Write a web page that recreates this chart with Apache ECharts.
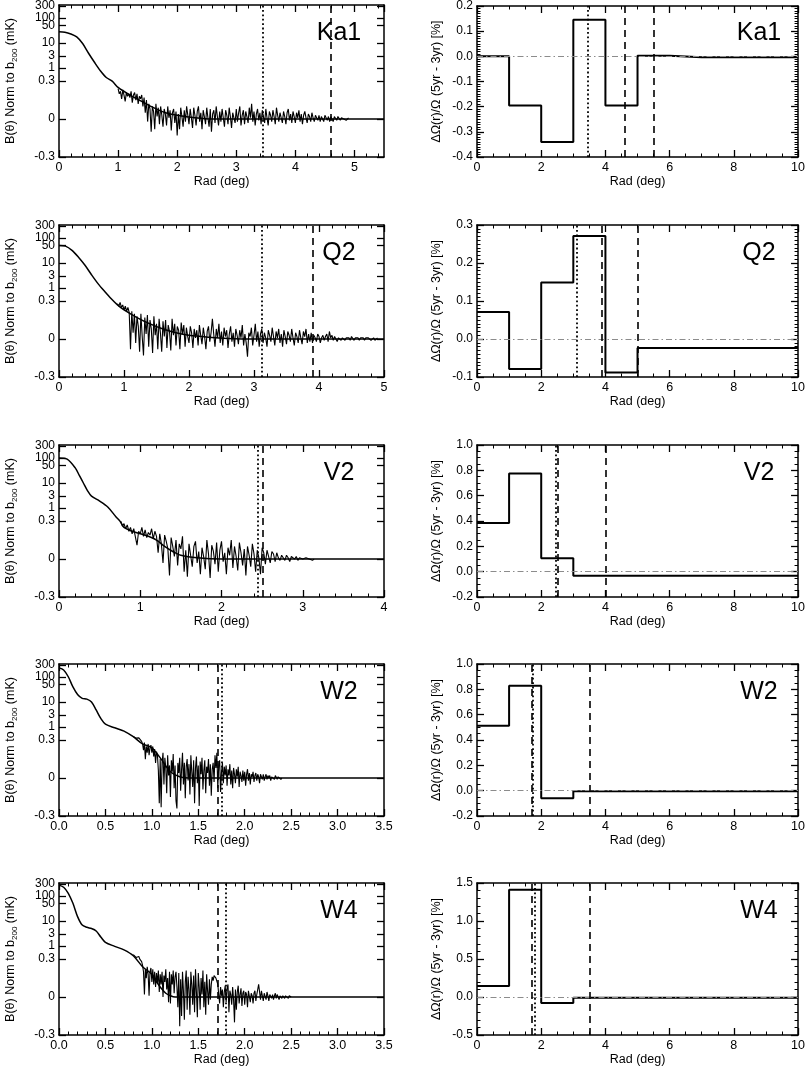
<!DOCTYPE html>
<html>
<head>
<meta charset="utf-8">
<script src="https://cdn.jsdelivr.net/npm/echarts@6/dist/echarts.min.js"></script>
<style>
  html, body { margin: 0; padding: 0; background: #fff; }
  #chart { width: 808px; height: 1075px; }
</style>
</head>
<body>
<div id="chart"></div>
<script>
// ---------------- data ----------------
const bandNames = ['Ka1', 'Q2', 'V2', 'W2', 'W4'];

// beam profile axis ticks (mK)
const profileTickValues = [-0.3, 0, 0.3, 1, 3, 10, 50, 100, 300];
const profileTickLabels = ['-0.3', '0', '0.3', '1', '3', '10', '50', '100', '300'];

// radial extent of each profile panel (deg) and tick spacing
const profileMaxRad = [5.5, 5, 4, 3.5, 3.5];
const profileRadInterval = [1, 1, 1, 0.5, 0.5];
const profileRadMinor = [0.2, 0.2, 0.2, 0.1, 0.1];

// smooth beam model B(theta), mK
const ka1BeamRad = [0, 0.1, 0.2, 0.3, 0.4, 0.5, 0.6, 0.7, 0.8, 0.9, 1.0, 1.2, 1.4, 1.6, 1.8, 2.0, 2.3, 2.6, 3.0, 5.5];
const ka1BeamMk  = [28, 27, 23, 17.5, 9.5, 3.9, 1.7, 0.78, 0.42, 0.3, 0.25, 0.19, 0.14, 0.09, 0.05, 0.03, 0.01, 0, 0, 0];
const q2BeamRad  = [0, 0.1, 0.2, 0.3, 0.4, 0.5, 0.6, 0.7, 0.8, 0.9, 1.0, 1.2, 1.4, 1.6, 1.8, 2.0, 2.3, 2.6, 3.0, 5];
const q2BeamMk   = [50, 47, 32, 17, 8.1, 3.4, 1.5, 0.74, 0.38, 0.27, 0.23, 0.17, 0.12, 0.08, 0.05, 0.03, 0.015, 0.005, 0, 0];
const v2BeamRad  = [0, 0.1, 0.2, 0.25, 0.3, 0.35, 0.4, 0.5, 0.6, 0.7, 0.75, 0.8, 0.9, 1.0, 1.1, 1.2, 1.3, 1.4, 1.5, 1.7, 2.0, 4];
const v2BeamMk   = [100, 90, 40, 20, 10, 5, 3, 1.9, 1.1, 0.45, 0.3, 0.25, 0.22, 0.2, 0.18, 0.15, 0.1, 0.06, 0.03, 0.01, 0, 0];
const w2BeamRad  = [0, 0.05, 0.1, 0.15, 0.2, 0.25, 0.3, 0.35, 0.4, 0.45, 0.5, 0.6, 0.7, 0.8, 0.9, 1.0, 1.1, 1.2, 1.3, 1.4, 3.5];
const w2BeamMk   = [230, 190, 102, 40, 20, 14, 13, 10, 4.8, 2.2, 1.3, 0.93, 0.69, 0.41, 0.27, 0.24, 0.15, 0.05, 0.01, 0, 0];
const w4BeamRad  = [0, 0.05, 0.1, 0.15, 0.2, 0.25, 0.3, 0.35, 0.4, 0.45, 0.5, 0.6, 0.7, 0.8, 0.9, 1.0, 1.05, 1.1, 1.15, 1.2, 1.25, 3.5];
const w4BeamMk   = [270, 222, 128, 51, 15, 6.9, 5.6, 5, 4, 2.3, 1.4, 0.97, 0.7, 0.41, 0.24, 0.18, 0.12, 0.07, 0.03, 0.01, 0, 0];

// measured profile samples on a regular radial grid (start, step in deg), mK
const ka1SampleStart = 1.0, ka1SampleStep = 0.02;
const ka1SampleMk = [
  .24,.2,.22,.16,.23,.19,.14,.21,.18,.2,
  .17,.22,.13,.19,.21,.15,.2,.12,.18,.16,
  .19,.1,.17,.05,.15,-.02,.12,.08,-.1,.1,
  .06,-.08,.12,.02,.09,-.04,.1,.03,-.06,.08,
  .04,-.05,.1,.01,.07,-.09,.05,.08,-.03,.06,
  -.13,.04,-.08,.09,.02,-.06,.07,-.02,.1,.03,
  -.04,.08,.01,-.07,.09,.03,-.05,.06,.1,-.02,
  .05,-.08,.07,.02,-.04,.09,.01,-.06,.08,-.1,
  .04,.07,-.03,.1,.02,-.05,.06,-.02,.08,.01,
  -.06,.07,.03,-.04,.09,.02,-.07,.05,.01,-.03,
  .08,-.02,.05,.1,-.05,.03,.07,-.04,.06,.02,
  -.03,.09,.01,.12,-.02,.06,-.05,.04,.08,-.01,
  .05,-.04,.07,.02,-.03,.08,.01,-.05,.06,.03,
  -.02,.07,.02,-.04,.09,.03,-.02,.05,.01,-.03,
  .06,.02,-.04,.05,.08,-.01,.04,-.03,.06,.02,
  -.03,.05,.01,.07,-.02,.04,-.04,.03,.06,.01,
  -.03,.04,.02,-.02,.05,.01,-.02,.03,.02,-.01,
  .03,-.02,.02,.01,-.02,.03,.01,-.01,.02,-.02,
  .02,.01,-.02,.02,.01,-.01,.02,.01,-.01,.01,
  .01,0,.01,-.01,0,.01
];
const q2SampleStart = 0.9, q2SampleStep = 0.02;
const q2SampleMk = [
  .28,.26,.29,.25,.27,.23,.26,.22,.25,.21,
  -.08,.22,.05,.2,-.03,.18,.1,-.1,.2,.02,
  -.13,.17,.04,.19,-.06,.15,.08,-.11,.18,.03,
  .12,-.08,.16,.05,-.1,.14,.02,.15,-.07,.11,
  .06,-.09,.16,.03,.12,-.05,.1,.07,-.08,.13,
  .04,.11,-.06,.09,.02,-.03,.1,.05,-.07,.08,
  .01,.07,-.05,.11,.03,-.04,.09,.02,-.08,.06,
  .1,-.02,.05,.16,.04,-.06,.08,.01,.12,-.03,
  .06,-.05,.09,.02,.07,-.07,.04,.1,-.02,.05,
  -.06,.08,.03,-.04,.07,.01,.11,-.05,.04,-.03,
  -.14,.05,.02,.09,-.05,.03,.12,-.02,.06,-.06,
  .04,.08,-.03,.05,.01,-.06,.07,.03,-.02,.09,
  .02,-.05,.06,.01,.08,-.03,.04,-.06,.07,.02,
  -.04,.06,.03,-.02,.08,.01,-.05,.05,.02,-.03,
  .07,.01,-.04,.06,.02,.08,-.03,.04,-.02,.05,
  -.03,.03,.01,-.02,.04,.02,-.03,.01,.03,-.01,
  .02,.04,-.02,.06,.01,.03,-.01,.02,.01,-.02,
  .01,.02,-.01,.01,.02,-.01,.01,0,.01,-.01,
  .02,.01,-.01,.01,0,.01,-.01,.01,0,.01,
  -.01,.01,0,.01,.02,-.01,0,.01,-.01,0,
  .01
];
const v2SampleStart = 0.76, v2SampleStep = 0.02;
const v2SampleMk = [
  .3,.26,.28,.24,.27,.22,.25,.2,.24,.23,
  .11,.22,.2,.25,.18,.23,.17,.21,.19,.24,
  .16,.22,.18,.05,.2,.12,-.03,.19,.14,.08,
  -.13,.17,.1,.02,.15,-.05,.12,.08,.18,-.1,
  .07,-.14,.12,.03,-.06,.1,.14,-.03,.06,-.12,
  .09,.02,-.08,.15,.04,-.15,.11,.06,-.04,.13,
  -.1,.07,.14,-.02,.05,-.12,.09,.03,.15,-.07,
  .1,.02,-.09,.13,.05,-.05,.08,-.13,.1,.03,
  -.06,.12,.04,-.1,.07,.01,-.12,.09,.05,-.04,
  .07,.02,-.03,.06,.04,-.02,.05,.01,-.01,.03,
  .02,-.01,.03,.01,-.02,.02,.01,0,.02,-.01,
  .01,.02,0,-.01,.01,.01,0,.01,-.01,0
];
const w2SampleStart = 0.8, w2SampleStep = 0.01;
const w2SampleMk = [
  .42,.38,.45,.36,.4,.33,.37,.31,.34,.29,
  .27,.22,.28,.15,.25,.2,.27,.18,.24,.26,
  .2,.25,.17,.23,.12,.21,.18,.06,-.2,.15,
  -.23,.12,.2,-.05,.16,.08,-.12,.18,.02,.1,
  -.15,.14,.05,.19,-.08,.1,-.18,-.24,.12,.04,
  .16,-.1,.07,.2,-.05,.12,-.16,.09,.15,-.02,
  .11,-.13,.18,.05,-.07,.14,-.2,.08,.17,-.04,
  .1,-.22,.13,.03,.16,-.09,.06,.14,-.12,.09,
  .04,.15,-.06,.11,-.14,.07,.12,-.03,.18,.08,
  .2,-.08,.1,.14,-.11,.05,.12,-.04,.09,.02,
  .1,-.06,.07,.02,.11,-.05,.06,-.08,.08,.03,
  -.04,.07,.01,.09,-.07,.05,.02,-.03,.06,-.02,
  .05,-.06,.03,.07,-.02,.04,-.05,.03,.01,.05,
  -.03,.02,.04,-.02,.03,.01,-.04,.03,.02,-.01,
  .03,-.02,.01,.03,-.01,.02,0,.02,-.02,.01,
  .02,0,-.01,.02,.01,-.01,.01,0,.01,-.01,
  0
];
const w4SampleStart = 0.8, w4SampleStep = 0.01;
const w4SampleMk = [
  .45,.38,.42,.35,.4,.33,.38,.3,.36,.28,
  .25,.2,.02,.22,.15,.24,.18,.01,.2,.23,
  .12,.22,.1,.2,.08,.19,.11,.21,.04,.18,
  .1,.2,0,.17,.12,.22,.06,.15,-.04,.2,
  -.05,.18,.1,.21,.03,.16,.2,.08,-.08,.19,
  -.23,.14,-.15,.2,.05,-.18,.12,.21,-.1,.16,
  .06,-.14,.2,.1,-.06,.17,-.12,.22,.04,-.16,
  .19,.08,-.1,.15,.02,.21,-.08,.12,-.14,.18,
  .05,-.06,.14,-.02,.1,.16,.13,.17,.18,.15,
  .14,.1,.02,-.05,.08,.01,.06,-.08,.04,.09,
  -.04,.07,.1,-.12,.05,.02,-.06,.08,-.02,-.2,
  .06,-.1,.04,.09,-.05,.02,.07,-.07,.03,.05,
  -.06,.04,.02,-.08,.05,.06,-.04,.03,.01,-.05,
  .03,.05,-.03,.02,.06,.1,.04,-.02,.05,.01,
  -.03,.03,.02,-.02,.04,.01,-.03,.02,.03,-.01,
  .02,-.02,.01,.03,-.01,.02,.01,-.02,.01,.02,
  -.01,.01,.02,-.01,.01,0,.01,-.01,.01,0,
  0
];

// solid-angle change per 1-deg radial bin, 5yr - 3yr (%)
const deltaBinEdges = [0, 1, 2, 3, 4, 5, 6, 7, 8, 9, 10];
const ka1Delta = [0, -0.195, -0.34, 0.145, -0.195, 0.002, -0.004, -0.004, -0.004, -0.004];
const q2Delta  = [0.071, -0.079, 0.149, 0.271, -0.088, -0.024, -0.024, -0.024, -0.024, -0.024];
const v2Delta  = [0.384, 0.775, 0.106, -0.032, -0.032, -0.032, -0.032, -0.032, -0.032, -0.032];
const w2Delta  = [0.512, 0.829, -0.06, -0.005, -0.005, -0.005, -0.005, -0.005, -0.005, -0.005];
const w4Delta  = [0.145, 1.41, -0.08, -0.01, -0.01, -0.01, -0.01, -0.01, -0.01, -0.01];

// y-axis ranges of the difference panels
const deltaAxisMin = [-0.4, -0.1, -0.2, -0.2, -0.5];
const deltaAxisMax = [0.2, 0.3, 1.0, 1.0, 1.5];
const deltaAxisInterval = [0.1, 0.1, 0.2, 0.2, 0.5];
const deltaAxisMinor = [0.01, 0.01, 0.05, 0.05, 0.1];

// reference radii (deg): dotted and dashed markers
const dottedRad = [[3.45], [3.12], [2.44], [1.75], [1.80]];
const dashedRad = [[4.6], [3.9], [2.51], [1.71], [1.71]];
const outerDashedRad = [[5.5], [5.0], [4.0], [3.5], [3.5]];

// ---------------- layout & style ----------------
const FONT = 'Liberation Sans, Arial, Helvetica, sans-serif';
const gridTops = [5, 225, 445, 664, 883];
const GRID_H = 152, GRID_W = 325, LEFT_X = 59, RIGHT_X = 477;

// beam profile scale: linear inside +-0.3 mK, logarithmic above
const LIN_LIMIT = 0.3, DECADE = 0.198;
function beamScale(v) {
  return v <= LIN_LIMIT ? v : LIN_LIMIT + DECADE * Math.log10(v / LIN_LIMIT);
}
const profileTickPos = profileTickValues.map(beamScale);
const PROFILE_TOP = beamScale(300) + 0.008;
function profileLabel(v) {
  for (let i = 0; i < profileTickPos.length; i++) {
    if (Math.abs(profileTickPos[i] - v) < 1e-6) return profileTickLabels[i];
  }
  return '';
}

// positions of minor ticks between the labelled ones
function minorPositions(min, max, step, majorStep) {
  const out = [];
  for (let k = Math.ceil(min / step - 1e-9); k * step <= max + 1e-9; k++) {
    const v = +(k * step).toFixed(6);
    const r = v / majorStep;
    if (Math.abs(r - Math.round(r)) > 1e-6) out.push(v);
  }
  return out;
}

const beams = [
  [ka1BeamRad, ka1BeamMk], [q2BeamRad, q2BeamMk], [v2BeamRad, v2BeamMk],
  [w2BeamRad, w2BeamMk], [w4BeamRad, w4BeamMk]
];
const samples = [
  [ka1SampleStart, ka1SampleStep, ka1SampleMk], [q2SampleStart, q2SampleStep, q2SampleMk],
  [v2SampleStart, v2SampleStep, v2SampleMk], [w2SampleStart, w2SampleStep, w2SampleMk],
  [w4SampleStart, w4SampleStep, w4SampleMk]
];
const deltas = [ka1Delta, q2Delta, v2Delta, w2Delta, w4Delta];

const LABEL_STYLE = { color: '#000', fontFamily: FONT };

const grid = [], xAxis = [], yAxis = [], series = [], graphic = [];

// major axis on each side of the frame, plus a minor-tick axis on the same side
function addAxes(list, dim, gi, min, max, interval, minorStep, label, name, nameCfg, customMajor) {
  const sides = dim === 'x' ? ['bottom', 'top'] : ['left', 'right'];
  const mainIndex = list.length;
  sides.forEach((side, s) => {
    const major = {
      type: 'value', gridIndex: gi, min: min, max: max, position: side,
      splitLine: { show: false },
      axisLine: { show: true, onZero: false, lineStyle: { color: '#000', width: 1.5 } },
      axisTick: Object.assign({ show: true, inside: true, length: 7, lineStyle: { color: '#000', width: 1.3 } },
        customMajor ? { customValues: customMajor } : {}),
      axisLabel: { show: false }
    };
    if (interval) major.interval = interval;
    if (s === 0) {
      major.axisLabel = Object.assign({}, label, LABEL_STYLE);
      Object.assign(major, { name: name, nameLocation: 'middle' }, nameCfg);
    }
    list.push(major);
    if (minorStep) {
      list.push({
        type: 'value', gridIndex: gi, min: min, max: max, position: side,
        splitLine: { show: false }, axisLine: { show: false, onZero: false }, axisLabel: { show: false },
        axisTick: {
          show: true, inside: true, length: 3.5, lineStyle: { color: '#000', width: 1 },
          customValues: minorPositions(min, max, minorStep, interval)
        }
      });
    }
  });
  return mainIndex;
}

function markerLines(dotted, dashed, extra) {
  const out = [];
  dotted.forEach(v => out.push({ xAxis: v, lineStyle: { type: [1.8, 2.6], width: 1.8, color: '#000' } }));
  dashed.concat(extra).forEach(v => out.push({ xAxis: v, lineStyle: { type: [7, 5], width: 1.6, color: '#000' } }));
  return out;
}

const X_NAME_CFG = { nameGap: 17, nameTextStyle: Object.assign({ fontSize: 12.5 }, LABEL_STYLE) };

bandNames.forEach((band, i) => {
  const top = gridTops[i];
  grid.push({ left: LEFT_X, top: top, width: GRID_W, height: GRID_H });
  grid.push({ left: RIGHT_X, top: top, width: GRID_W, height: GRID_H });
  const gL = 2 * i, gR = 2 * i + 1;

  // ---- beam profile panel ----
  const halfStep = profileRadInterval[i] < 1;
  const xL = addAxes(xAxis, 'x', gL, 0, profileMaxRad[i], profileRadInterval[i], profileRadMinor[i],
    { fontSize: 12.5, margin: 4, formatter: v => halfStep ? v.toFixed(1) : String(v),
      showMaxLabel: profileMaxRad[i] % profileRadInterval[i] === 0 },
    'Rad (deg)', X_NAME_CFG);
  const yL = addAxes(yAxis, 'y', gL, -0.3, PROFILE_TOP, null, null,
    { fontSize: 12, margin: 4, customValues: profileTickPos, formatter: profileLabel },
    '{a|B(θ) Norm to b}{s|200}{a| (mK)}',
    {
      nameGap: 40, nameRotate: 90,
      nameTextStyle: {
        rich: {
          a: { fontSize: 12.5, fontFamily: FONT, color: '#000', lineHeight: 16, verticalAlign: 'middle' },
          s: { fontSize: 8, fontFamily: FONT, color: '#000', lineHeight: 8, verticalAlign: 'bottom' }
        }
      }
    }, profileTickPos);

  const [bRad, bMk] = beams[i];
  series.push({
    type: 'line', xAxisIndex: xL, yAxisIndex: yL,
    data: bRad.map((r, k) => [r, beamScale(bMk[k])]),
    showSymbol: false, smooth: 0.3, lineStyle: { color: '#000', width: 1.5 },
    markLine: {
      silent: true, symbol: ['none', 'none'], label: { show: false }, animation: false,
      data: markerLines(dottedRad[i], dashedRad[i], [])
    }
  });
  const [sStart, sStep, sMk] = samples[i];
  series.push({
    type: 'line', xAxisIndex: xL, yAxisIndex: yL,
    data: sMk.map((v, k) => [+(sStart + k * sStep).toFixed(3), beamScale(v)]),
    showSymbol: false, lineStyle: { color: '#000', width: 1.1 }
  });

  // ---- difference panel ----
  const xR = addAxes(xAxis, 'x', gR, 0, 10, 2, 0.5,
    { fontSize: 12.5, margin: 4, formatter: v => String(v) }, 'Rad (deg)', X_NAME_CFG);
  const yR = addAxes(yAxis, 'y', gR, deltaAxisMin[i], deltaAxisMax[i], deltaAxisInterval[i], deltaAxisMinor[i],
    { fontSize: 12, margin: 4, formatter: v => v.toFixed(1) },
    'ΔΩ(r)/Ω (5yr - 3yr) [%]',
    { nameGap: 34, nameRotate: 90, nameTextStyle: Object.assign({ fontSize: 12.5 }, LABEL_STYLE) });

  const dv = deltas[i];
  const stepData = dv.map((v, k) => [deltaBinEdges[k], v]);
  stepData.push([deltaBinEdges[deltaBinEdges.length - 1], dv[dv.length - 1]]);
  const zeroLine = { yAxis: 0, lineStyle: { type: [6, 3, 1.5, 3], width: 1, color: '#8c8c8c' } };
  series.push({
    type: 'line', xAxisIndex: xR, yAxisIndex: yR,
    step: 'end', data: stepData, showSymbol: false,
    lineStyle: { color: '#000', width: 2 },
    markLine: {
      silent: true, symbol: ['none', 'none'], label: { show: false }, animation: false,
      data: [zeroLine].concat(markerLines(dottedRad[i], dashedRad[i], outerDashedRad[i]))
    }
  });

  // band labels
  [339, 759].forEach(cx => {
    graphic.push({
      type: 'text', x: cx, y: top + 28, silent: true,
      style: { text: band, fontSize: 25, fontFamily: FONT, fill: '#000', align: 'center', verticalAlign: 'middle', textAlign: 'center', textVerticalAlign: 'middle' }
    });
  });
});

const chart = echarts.init(document.getElementById('chart'), null, { renderer: 'canvas' });
chart.setOption({
  backgroundColor: '#fff',
  animation: false,
  grid: grid,
  xAxis: xAxis,
  yAxis: yAxis,
  series: series,
  graphic: graphic
});
</script>
</body>
</html>
